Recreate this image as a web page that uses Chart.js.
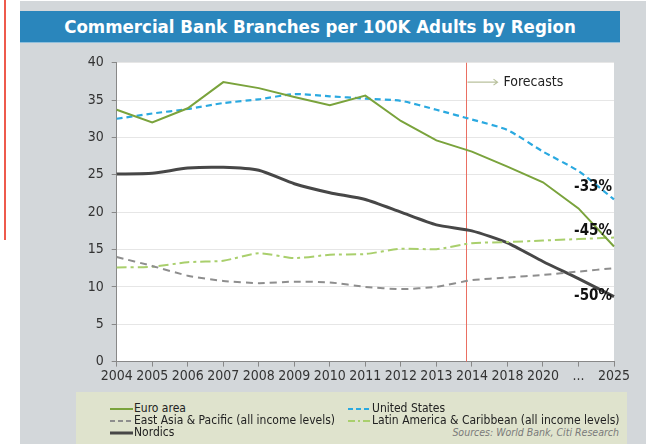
<!DOCTYPE html>
<html>
<head>
<meta charset="utf-8">
<script src="https://cdn.jsdelivr.net/npm/chart.js@4.4.0/dist/chart.umd.min.js"></script>
<style>
  body { margin: 0; background: #fff; }
  #wrap { position: relative; width: 646px; height: 444px; overflow: hidden;
    font-family: 'Liberation Sans Narrow', 'DejaVu Sans Condensed', Roboto, sans-serif; }
  #redline { position: absolute; left: 4px; top: 0; width: 2px; height: 240px; background: #ee5a4c; }
  #panel { position: absolute; left: 20px; top: 1px; width: 626px; height: 443px; background: #d3d7da; }
  #title { position: absolute; left: 20px; top: 11px; width: 600px; height: 31px; background: #2a86bc;
    border-bottom: 1px solid #8fbfdc; color: #fff; font-weight: bold; font-size: 18.5px;
    line-height: 31px; text-align: center; }
  #legend { position: absolute; left: 76px; top: 392px; width: 551px; height: 52px; background: #dfe3cd;
    font-size: 12px; color: #222; }
  .item { position: absolute; height: 12px; line-height: 12px; white-space: nowrap; }
  .item canvas { vertical-align: middle; margin-right: 1px; }
  #source { position: absolute; right: 8px; top: 34px; font-style: italic; font-size: 10.5px; color: #7a7a7a; }
  #chart { position: absolute; left: 0; top: 0; }
</style>
</head>
<body>
<div id="wrap">
  <div id="redline"></div>
  <div id="panel"></div>
  <div id="title">Commercial Bank Branches per 100K Adults by Region</div>
  <div id="legend"><div id="source">Sources: World Bank, Citi Research</div></div>
  <canvas id="chart" width="646" height="444"></canvas>
</div>
<script>
const labels = ['2004', '2005', '2006', '2007', '2008', '2009', '2010', '2011', '2012', '2013',
  '2014', '2018', '2020', '...', '2025'];
const euroArea = [33.7, 32.0, 33.9, 37.4, 36.6, 35.4, 34.3, 35.6, 32.2, 29.6, 28.1, 26.1, 24.0, 20.5, 15.4];
const unitedStates = [32.5, 33.2, 33.8, 34.6, 35.1, 35.8, 35.5, 35.2, 34.9, 33.7, 32.4, 31.0, 28.1, 25.5, 21.7];
const nordics = [25.1, 25.2, 25.9, 26.0, 25.6, 23.8, 22.6, 21.7, 20.0, 18.3, 17.5, 15.9, 13.4, 11.1, 8.7];
const eastAsia = [14.0, 12.8, 11.5, 10.8, 10.5, 10.7, 10.6, 10.0, 9.7, 10.0, 10.9, 11.25, 11.6, 12.05, 12.5];
const latinAmerica = [12.6, 12.7, 13.3, 13.5, 14.5, 13.85, 14.3, 14.4, 15.1, 15.05, 15.85, 16.0, 16.2, 16.4, 16.6];

const changeLabels = ['-33%', '-45%', '-50%'];
const changeValues = [23.3, 17.5, 8.7];
const forecastIndex = 9.82;
const forecastText = 'Forecasts';
const forecastValue = 37.4;

const FONT = "'Liberation Sans Narrow', 'DejaVu Sans Condensed', Roboto, sans-serif";

const series = [
  { label: 'Euro area', data: euroArea, color: '#7aa33c', width: 2, dash: [], tension: 0 },
  { label: 'United States', data: unitedStates, color: '#2aa9e0', width: 2.2, dash: [6, 4], tension: 0.2 },
  { label: 'East Asia & Pacific (all income levels)', data: eastAsia, color: '#8e8e8e', width: 2, dash: [7, 5], tension: 0.2 },
  { label: 'Latin America & Caribbean (all income levels)', data: latinAmerica, color: '#a9cf6c', width: 2, dash: [10, 4, 3, 4], tension: 0.2 },
  { label: 'Nordics', data: nordics, color: '#474747', width: 3, dash: [], tension: 0.2 }
];

// legend, two columns like the original
const legendPos = [[34, 10], [272, 10], [34, 22], [272, 22], [34, 34]];
const legendBox = document.getElementById('legend');
series.forEach((s, i) => {
  const div = document.createElement('div');
  div.className = 'item';
  div.style.left = legendPos[i][0] + 'px';
  div.style.top = legendPos[i][1] + 'px';
  const c = document.createElement('canvas');
  c.width = 23; c.height = 6;
  const g = c.getContext('2d');
  g.strokeStyle = s.color;
  g.lineWidth = s.width;
  g.setLineDash(s.dash.length ? (s.dash.length > 2 ? [7, 3, 2, 3] : [5, 3]) : []);
  g.beginPath(); g.moveTo(0, 3); g.lineTo(23, 3); g.stroke();
  div.appendChild(c);
  div.appendChild(document.createTextNode(s.label));
  legendBox.appendChild(div);
});

const areaBg = {
  id: 'areaBg',
  beforeDraw(chart) {
    const { ctx, chartArea } = chart;
    ctx.save();
    ctx.fillStyle = '#ffffff';
    ctx.fillRect(chartArea.left, chartArea.top, chartArea.right - chartArea.left, chartArea.bottom - chartArea.top);
    ctx.restore();
  }
};

const forecastMark = {
  id: 'forecastMark',
  beforeDatasetsDraw(chart) {
    const { ctx, chartArea, scales } = chart;
    const x = Math.round(scales.x.getPixelForValue(forecastIndex)) + 0.5;
    const y = scales.y.getPixelForValue(forecastValue);
    ctx.save();
    ctx.strokeStyle = '#ea6f62';
    ctx.lineWidth = 1;
    ctx.beginPath();
    ctx.moveTo(x, chartArea.top);
    ctx.lineTo(x, chartArea.bottom);
    ctx.stroke();
    // arrow
    ctx.strokeStyle = '#b9c19d';
    ctx.lineWidth = 1.2;
    ctx.beginPath();
    ctx.moveTo(x + 1, y);
    ctx.lineTo(x + 31, y);
    ctx.moveTo(x + 27, y - 3);
    ctx.lineTo(x + 31, y);
    ctx.lineTo(x + 27, y + 3);
    ctx.stroke();
    ctx.fillStyle = '#222';
    ctx.font = '14px ' + FONT;
    ctx.textBaseline = 'middle';
    ctx.textAlign = 'left';
    ctx.fillText(forecastText, x + 37, y);
    ctx.restore();
  },
  afterDatasetsDraw(chart) {
    const { ctx, scales } = chart;
    const x = scales.x.getPixelForValue(labels.length - 1) - 2;
    ctx.save();
    ctx.fillStyle = '#111';
    ctx.font = 'bold 15px ' + FONT;
    ctx.textAlign = 'right';
    ctx.textBaseline = 'middle';
    changeLabels.forEach((t, i) => {
      ctx.fillText(t, x, scales.y.getPixelForValue(changeValues[i]));
    });
    ctx.restore();
  }
};

Chart.defaults.font.family = FONT;
Chart.defaults.color = '#333';

new Chart(document.getElementById('chart'), {
  type: 'line',
  data: {
    labels,
    datasets: series.map(s => ({
      label: s.label,
      data: s.data,
      borderColor: s.color,
      borderWidth: s.width,
      borderDash: s.dash,
      tension: s.tension,
      pointRadius: 0,
      fill: false
    }))
  },
  options: {
    responsive: false,
    animation: false,
    layout: { padding: { left: 76.7, top: 62.7, right: 32, bottom: 57.4 } },
    plugins: { legend: { display: false }, tooltip: { enabled: false } },
    scales: {
      x: {
        offset: false,
        afterFit(scale) { scale.height = 25; },
        grid: { drawOnChartArea: false, tickLength: 5, color: '#888', offset: false },
        border: { color: '#888' },
        ticks: { autoSkip: false, maxRotation: 0, padding: 1, font: { size: 14 }, color: '#333' }
      },
      y: {
        min: 0,
        max: 40,
        afterFit(scale) { scale.width = 40; },
        grid: { color: '#e6e6e6', tickColor: '#888', tickLength: 5 },
        border: { color: '#888' },
        ticks: { stepSize: 5, padding: 8, font: { size: 14 }, color: '#333' }
      }
    }
  },
  plugins: [areaBg, forecastMark]
});
</script>
</body>
</html>
